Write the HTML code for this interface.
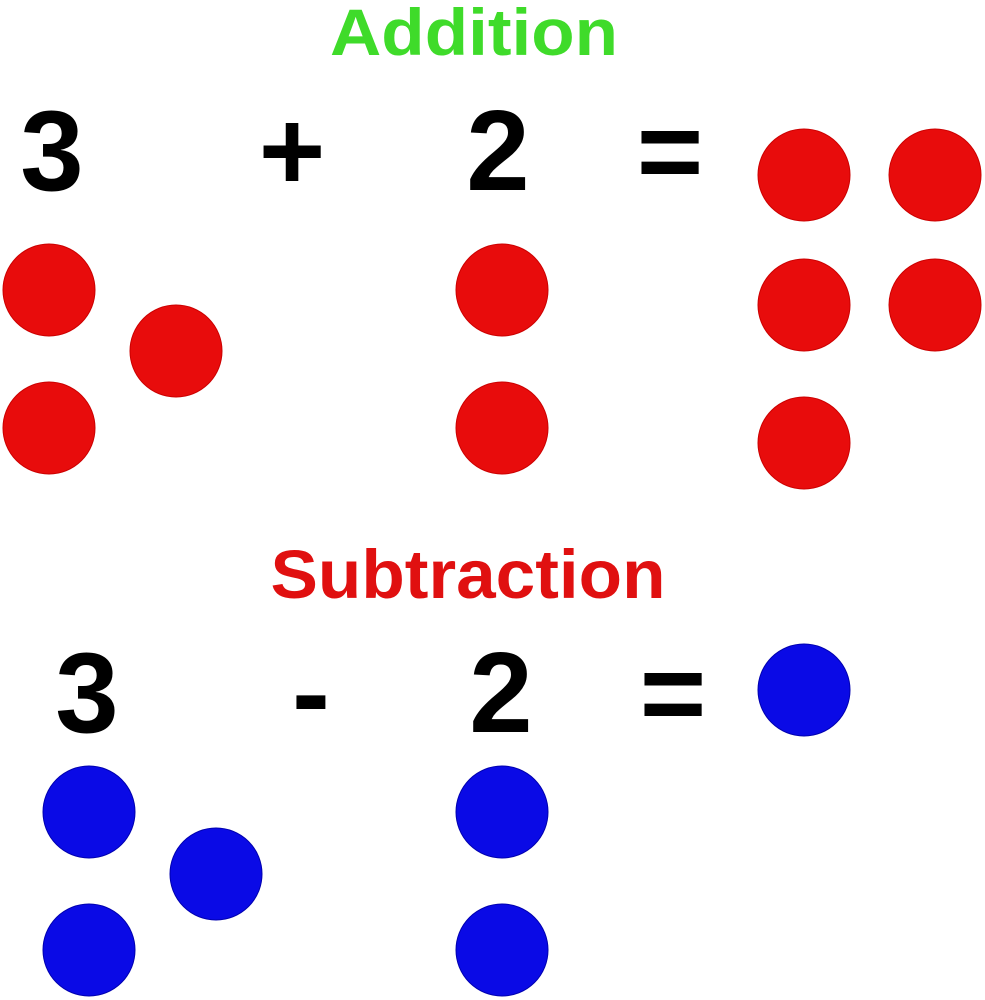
<!DOCTYPE html>
<html><head><meta charset="utf-8"><style>html,body{margin:0;padding:0;background:#fff}svg{display:block}</style></head>
<body>
<svg width="985" height="1000" viewBox="0 0 985 1000" xmlns="http://www.w3.org/2000/svg" font-family="Liberation Sans, sans-serif" font-weight="bold">
<text x="474" y="55" font-size="66" fill="#3fdb2a" text-anchor="middle" textLength="288" lengthAdjust="spacingAndGlyphs">Addition</text>
<text x="52" y="190" font-size="114" fill="#000" text-anchor="middle">3</text>
<text x="292" y="190" font-size="114" fill="#000" text-anchor="middle">+</text>
<text x="498" y="190" font-size="114" fill="#000" text-anchor="middle">2</text>
<text x="670" y="190" font-size="114" fill="#000" text-anchor="middle">=</text>
<g fill="#e80c0c" stroke="#c00" stroke-width="1">
<circle cx="49" cy="290" r="46"/><circle cx="176" cy="351" r="46"/><circle cx="49" cy="428" r="46"/>
<circle cx="502" cy="290" r="46"/><circle cx="502" cy="428" r="46"/>
<circle cx="804" cy="175" r="46"/><circle cx="935" cy="175" r="46"/>
<circle cx="804" cy="305" r="46"/><circle cx="935" cy="305" r="46"/>
<circle cx="804" cy="443" r="46"/>
</g>
<text x="468" y="598" font-size="69" fill="#e01010" text-anchor="middle" textLength="395" lengthAdjust="spacingAndGlyphs">Subtraction</text>
<text x="87" y="732" font-size="114" fill="#000" text-anchor="middle">3</text>
<text x="311" y="732" font-size="114" fill="#000" text-anchor="middle">-</text>
<text x="501" y="732" font-size="114" fill="#000" text-anchor="middle">2</text>
<text x="673" y="732" font-size="114" fill="#000" text-anchor="middle">=</text>
<g fill="#0a0ae6" stroke="#0000b0" stroke-width="1">
<circle cx="804" cy="690" r="46"/>
<circle cx="89" cy="812" r="46"/><circle cx="216" cy="874" r="46"/><circle cx="89" cy="950" r="46"/>
<circle cx="502" cy="812" r="46"/><circle cx="502" cy="950" r="46"/>
</g>
</svg>
</body></html>
